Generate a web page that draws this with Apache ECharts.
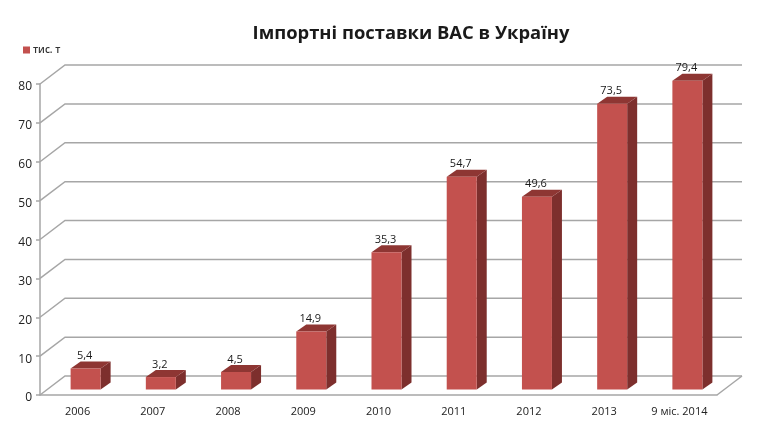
<!DOCTYPE html>
<html>
<head>
<meta charset="utf-8">
<style>html,body{margin:0;padding:0;background:#fff}#main{width:773px;height:437px}</style>
<script src="https://cdn.jsdelivr.net/npm/echarts@6/dist/echarts.min.js"></script>
</head>
<body>
<div id="main"></div>
<script>
var categories = ['2006', '2007', '2008', '2009', '2010', '2011', '2012', '2013', '9 міс. 2014'];
var values = [5.4, 3.2, 4.5, 14.9, 35.3, 54.7, 49.6, 73.5, 79.4];
var gridTicks = [0, 10, 20, 30, 40, 50, 60, 70, 80];

var chart = echarts.init(document.getElementById('main'));
var fontName = '"Open Sans", sans-serif';
var lineColor = '#a6a6a6';

// back wall of the fake 3d box, shifted from the front axes
var wallDx = 25, wallDy = -19;
// bars stand a bit inside the box
var barDx = 8, barDy = -5.5, barWidth = 30, depthX = 10, depthY = -7;

function wallItem(params, api) {
    var y = api.coord([0, api.value(0)])[1];
    var rect = params.coordSys;
    var x0 = rect.x, x1 = rect.x + rect.width;
    var children = [{
        type: 'polyline',
        shape: { points: [[x0, y], [x0 + wallDx, y + wallDy], [x1 + wallDx, y + wallDy]] },
        style: { fill: null, stroke: lineColor, lineWidth: 1.5 }
    }];
    if (api.value(0) === 0) {
        // right edge of the floor
        children.push({
            type: 'line',
            shape: { x1: x1, y1: y, x2: x1 + wallDx, y2: y + wallDy },
            style: { stroke: lineColor, lineWidth: 1.5 }
        });
    }
    return { type: 'group', children: children };
}

function barItem(params, api) {
    var top = api.coord([api.value(0), api.value(1)]);
    var base = api.coord([api.value(0), 0]);
    var l = top[0] + barDx - barWidth / 2, r = l + barWidth;
    var t = top[1] + barDy, b = base[1] + barDy;
    return {
        type: 'group',
        children: [{
            type: 'polygon',
            shape: { points: [[r, t], [r + depthX, t + depthY], [r + depthX, b + depthY], [r, b]] },
            style: { fill: '#7d2f2d' }
        }, {
            type: 'polygon',
            shape: { points: [[l, t], [l + depthX, t + depthY], [r + depthX, t + depthY], [r, t]] },
            style: { fill: '#8e3633' }
        }, {
            type: 'rect',
            shape: { x: l, y: t, width: barWidth, height: b - t },
            style: { fill: '#c3514e' }
        }, {
            type: 'text',
            style: {
                x: l + barWidth / 2 - 1, y: t - 12.5,
                text: String(api.value(1)).replace('.', ','),
                fill: '#1a1a1a',
                font: '11px ' + fontName,
                align: 'center', verticalAlign: 'middle'
            }
        }]
    };
}

var option = {
    backgroundColor: '#fff',
    animation: false,
    title: {
        text: 'Імпортні поставки ВАС в Україну',
        left: 406,
        top: 20,
        textAlign: 'center',
        textStyle: { fontFamily: fontName, fontSize: 18.4, fontWeight: 700, color: '#1a1a1a' }
    },
    legend: {
        left: 18,
        top: 40,
        itemWidth: 7,
        itemHeight: 7,
        itemGap: 4,
        data: [{ name: 'тис. т', icon: 'rect' }],
        textStyle: { fontFamily: fontName, fontSize: 10, fontWeight: 600, color: '#333', padding: [0, 0, 0, -2] }
    },
    grid: { left: 40, right: 56, top: 84, bottom: 42 },
    xAxis: {
        type: 'category',
        data: categories,
        axisLine: { lineStyle: { color: lineColor, width: 1.5 } },
        axisTick: { length: 4, alignWithLabel: false, lineStyle: { color: lineColor, width: 1.5 } },
        axisLabel: { fontFamily: fontName, fontSize: 11, color: '#222', margin: 11, interval: 0 }
    },
    yAxis: {
        type: 'value',
        min: 0,
        max: 80,
        interval: 10,
        axisLine: { show: true, lineStyle: { color: lineColor, width: 1.5 } },
        axisTick: { show: true, length: 4, lineStyle: { color: lineColor, width: 1.5 } },
        axisLabel: {
            margin: 8,
            formatter: '{v|{value}}',
            // labels sit a little below the tick in the original
            rich: { v: { fontFamily: fontName, fontSize: 12, color: '#222', padding: [6, 0, 0, 0] } }
        },
        splitLine: { show: false }
    },
    series: [{
        type: 'custom',
        name: 'wall',
        silent: true,
        clip: false,
        z: 1,
        renderItem: wallItem,
        encode: { y: 0 },
        data: gridTicks.map(function (t) { return [t]; })
    }, {
        type: 'custom',
        name: 'тис. т',
        clip: false,
        z: 3,
        itemStyle: { color: '#c3514e' },
        renderItem: barItem,
        encode: { x: 0, y: 1 },
        data: values.map(function (v, i) { return [i, v]; })
    }]
};
chart.setOption(option);
</script>
</body>
</html>
